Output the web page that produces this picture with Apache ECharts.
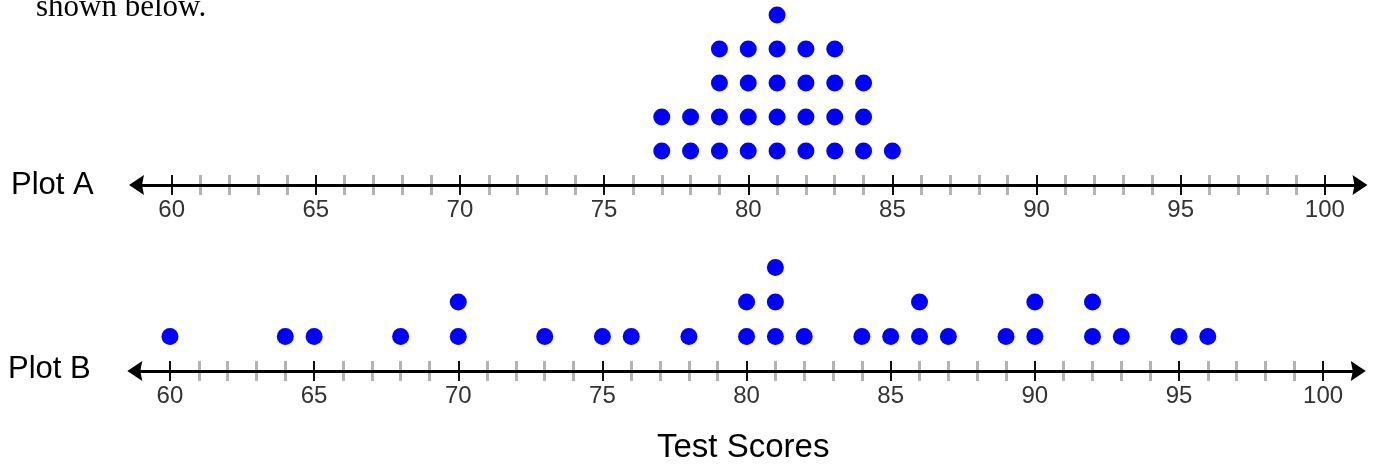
<!DOCTYPE html>
<html>
<head>
<meta charset="utf-8">
<script src="https://cdn.jsdelivr.net/npm/echarts@6/dist/echarts.min.js"></script>
<style>
html,body{margin:0;padding:0;background:#fff;}
#chart{width:1377px;height:466px;}
</style>
</head>
<body>
<div id="chart"></div>
<script>
// ---- data ----
const scoresA = [77, 78, 79, 80, 81, 82, 83, 84, 85];
const countsA = [2, 2, 4, 4, 5, 4, 4, 3, 1];
const scoresB = [60, 64, 65, 68, 70, 73, 75, 76, 78, 80, 81, 82, 84, 85, 86, 87, 89, 90, 92, 93, 95, 96];
const countsB = [1, 1, 1, 1, 2, 1, 1, 1, 1, 2, 3, 1, 1, 1, 2, 1, 1, 2, 2, 1, 1, 1];
const majorTicks = [60, 65, 70, 75, 80, 85, 90, 95, 100];
const minorTicks = [61,62,63,64,66,67,68,69,71,72,73,74,76,77,78,79,81,82,83,84,86,87,88,89,91,92,93,94,96,97,98,99];
const plotNames = ['Plot A', 'Plot B'];
const axisTitle = 'Test Scores';
const introText = 'shown below.';

function stackPoints(scores, counts) {
  const pts = [];
  scores.forEach((s, i) => {
    for (let k = 1; k <= counts[i]; k++) pts.push([s, k]);
  });
  return pts;
}

const chart = echarts.init(document.getElementById('chart'), null, {renderer: 'canvas'});

const grids = [
  {left: 136.5, width: 1223.5, top: 15, height: 170, containLabel: false, outerBoundsMode: 'none'},
  {left: 134.8, width: 1223.5, top: 267.5, height: 103.5, containLabel: false, outerBoundsMode: 'none'}
];
const yMax = [5, 3];
const arrowPath = 'path://M10,0 L20,15 L10,13 L0,15 Z';

const xAxes = [];
const yAxes = [];
grids.forEach((g, gi) => {
  const base = {gridIndex: gi, type: 'value', position: 'bottom', min: 58.78, max: 101.22, splitLine: {show: false}};
  xAxes.push(Object.assign({}, base, {
    offset: -10, z: 1,
    axisLine: {show: false},
    axisLabel: {show: false},
    axisTick: {show: true, customValues: minorTicks, length: 20, lineStyle: {color: '#b3b3b3', width: 3}}
  }));
  xAxes.push(Object.assign({}, base, {
    offset: -10, z: 2,
    axisLine: {show: false},
    axisLabel: {show: false},
    axisTick: {show: true, customValues: majorTicks, length: 20, lineStyle: {color: '#111', width: 2}}
  }));
  xAxes.push(Object.assign({}, base, {
    offset: 0, z: 3,
    axisLine: {show: true, symbol: [arrowPath, arrowPath], symbolSize: [20, 15], lineStyle: {color: '#000', width: 3}},
    axisTick: {show: false},
    axisLabel: {show: true, customValues: majorTicks, margin: 13, fontSize: 24, color: '#333', fontFamily: 'Liberation Sans'}
  }));
  yAxes.push({gridIndex: gi, type: 'value', min: 0, max: yMax[gi], show: false});
});

const series = [
  {type: 'scatter', xAxisIndex: 0, yAxisIndex: 0, data: stackPoints(scoresA, countsA), symbolSize: 17, clip: false, itemStyle: {color: '#0000ff', opacity: 1}, z: 5},
  {type: 'scatter', xAxisIndex: 3, yAxisIndex: 1, data: stackPoints(scoresB, countsB), symbolSize: 17, clip: false, itemStyle: {color: '#0000ff', opacity: 1}, z: 5}
];

chart.setOption({
  animation: false,
  backgroundColor: '#fff',
  grid: grids,
  xAxis: xAxes,
  yAxis: yAxes,
  series: series,
  graphic: [
    {type: 'text', left: 36, top: -8, style: {text: introText, fontSize: 31, fontFamily: 'Liberation Serif', fill: '#000'}},
    {type: 'text', left: 11, top: 170, style: {text: plotNames[0], fontSize: 31, fontFamily: 'Liberation Sans', fill: '#000'}},
    {type: 'text', left: 8, top: 354, style: {text: plotNames[1], fontSize: 31, fontFamily: 'Liberation Sans', fill: '#000'}},
    {type: 'text', left: 657, top: 431, style: {text: axisTitle, fontSize: 33, fontFamily: 'Liberation Sans', fill: '#000'}}
  ]
});
</script>
</body>
</html>
